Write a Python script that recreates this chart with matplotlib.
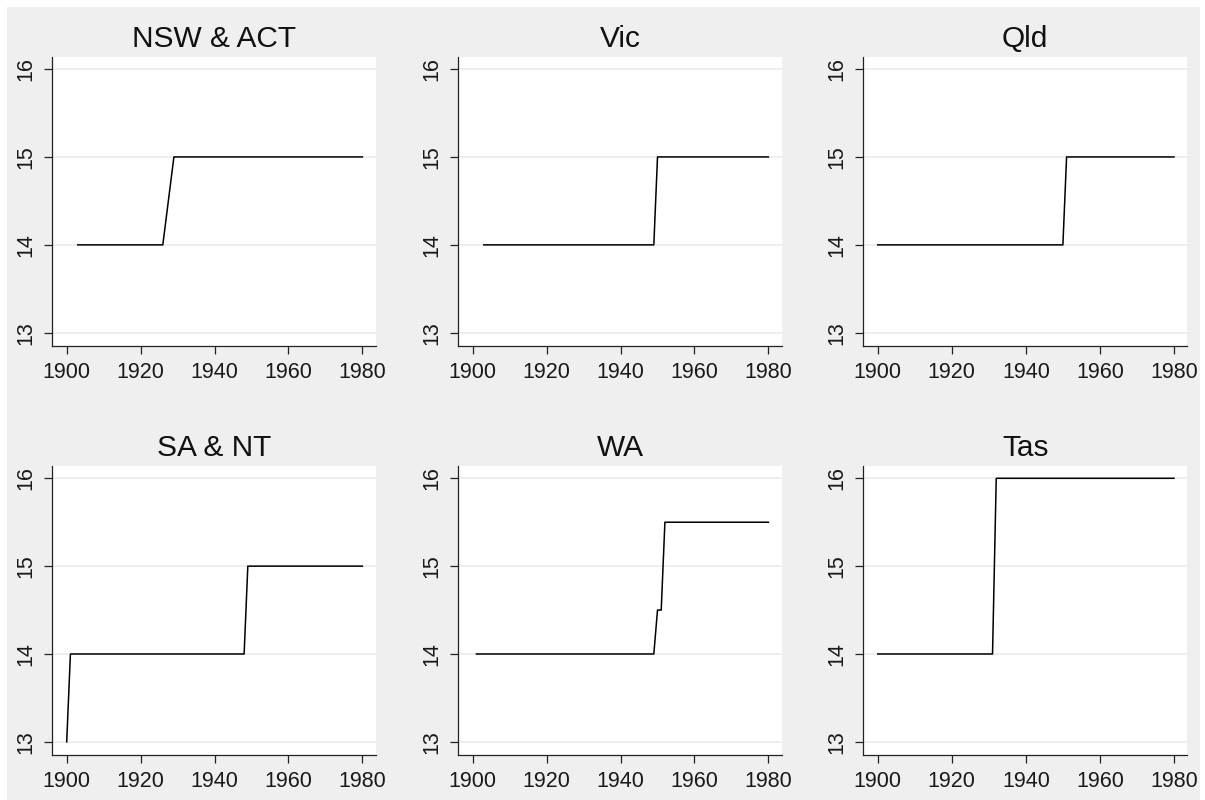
import matplotlib
matplotlib.use('Agg')
import matplotlib.pyplot as plt
from matplotlib.patches import Rectangle

plt.rcParams['font.family'] = ['Liberation Sans', 'DejaVu Sans']

# datos: edad minima de salida escolar por estado
titulos = ['NSW & ACT', 'Vic', 'Qld', 'SA & NT', 'WA', 'Tas']

nsw_anios = [1903, 1926, 1929, 1980]
nsw_edad = [14, 14, 15, 15]

vic_anios = [1903, 1949, 1950, 1980]
vic_edad = [14, 14, 15, 15]

qld_anios = [1900, 1950, 1951, 1980]
qld_edad = [14, 14, 15, 15]

sa_anios = [1900, 1901, 1948, 1949, 1980]
sa_edad = [13, 14, 14, 15, 15]

wa_anios = [1901, 1949, 1950, 1951, 1952, 1980]
wa_edad = [14, 14, 14.5, 14.5, 15.5, 15.5]

tas_anios = [1900, 1931, 1932, 1980]
tas_edad = [14, 14, 16, 16]

x_ticks = [1900, 1920, 1940, 1960, 1980]
y_ticks = [13, 14, 15, 16]

series = [(nsw_anios, nsw_edad), (vic_anios, vic_edad), (qld_anios, qld_edad),
          (sa_anios, sa_edad), (wa_anios, wa_edad), (tas_anios, tas_edad)]

W, H = 1205, 800
fig = plt.figure(figsize=(W / 100, H / 100), dpi=100)
fig.patch.set_facecolor('white')
# fondo gris estilo stata (detras de los paneles)
fig.patches.append(Rectangle((7 / W, 0), (W - 12) / W, (H - 7) / H,
                             transform=fig.transFigure, facecolor='#efefef',
                             edgecolor='none', zorder=-10))

# posiciones de los paneles en pixeles (izq, der) y (arriba, abajo)
columnas = [(52.3, 375.7), (458.3, 781.7), (863.3, 1187.3)]
filas = [(56.7, 346), (466, 755)]

for i, (anios, edad) in enumerate(series):
    izq, der = columnas[i % 3]
    arr, aba = filas[i // 3]
    ax = fig.add_axes([izq / W, 1 - aba / H, (der - izq) / W, (aba - arr) / H])
    ax.set_facecolor('white')
    ax.plot(anios, edad, color='black', linewidth=1.1, zorder=3)

    ax.set_xlim(1896.1, 1983.6)
    ax.set_ylim(12.85, 16.14)
    ax.set_xticks(x_ticks)
    ax.set_yticks(y_ticks)
    ax.grid(axis='y', color='#eaeaea', linewidth=1.1, zorder=1)
    ax.grid(axis='x', visible=False)

    for lado in ['top', 'right']:
        ax.spines[lado].set_visible(False)
    for lado in ['left', 'bottom']:
        ax.spines[lado].set_color('#222222')
        ax.spines[lado].set_linewidth(0.9)

    ax.tick_params(axis='both', direction='out', length=5.5, width=0.9,
                   color='#222222', labelsize=15.5, labelcolor='#1a1a1a')
    ax.tick_params(axis='x', pad=6)
    ax.tick_params(axis='y', pad=6)
    for lbl in ax.get_yticklabels():
        lbl.set_rotation(90)
        lbl.set_va('center')

    ax.set_title(titulos[i], fontsize=21.5, color='#111111', pad=7)

plt.savefig('out.png', dpi=100, facecolor=fig.get_facecolor())
